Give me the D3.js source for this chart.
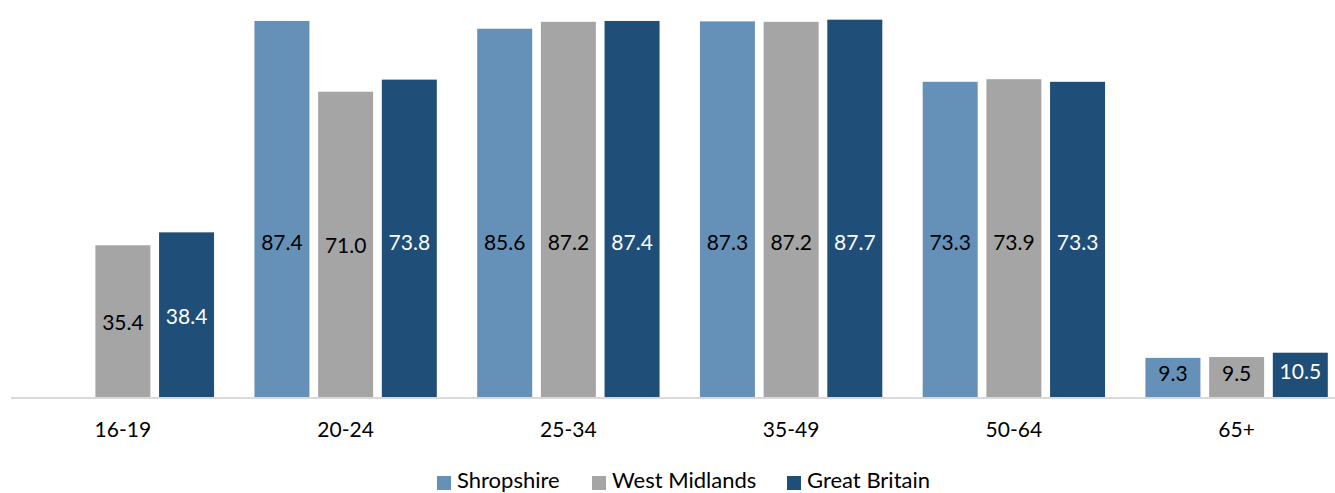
<!DOCTYPE html>
<html>
<head>
<meta charset="utf-8">
<script src="https://cdn.jsdelivr.net/npm/d3@7"></script>
<style>
  html, body { margin: 0; padding: 0; background: #fff; }
  svg { display: block; font-family: Lato, "Open Sans", sans-serif; }
</style>
</head>
<body>
<svg id="chart" width="1335" height="493"></svg>
<script>
// Employment rate by age group (%)
const categories = ["16-19", "20-24", "25-34", "35-49", "50-64", "65+"];
const seriesNames = ["Shropshire", "West Midlands", "Great Britain"];
const shropshire   = [null, 87.4, 85.6, 87.3, 73.3, 9.3];
const westMidlands = [35.4, 71.0, 87.2, 87.2, 73.9, 9.5];
const greatBritain = [38.4, 73.8, 87.4, 87.7, 73.3, 10.5];

const colors = ["#6591b9", "#a5a5a5", "#1f4e79"];
const labelColors = ["#000", "#000", "#fff"];
const seriesValues = [shropshire, westMidlands, greatBritain];

const svg = d3.select("#chart");
const baseY = 398;
const labelCap = 72.7; // labels of taller bars sit centred below this level

const x0 = d3.scaleBand().domain(categories).range([11.5, 1348]).padding(0);
const x1 = d3.scaleBand().domain(seriesNames).range([0, x0.bandwidth()])
  .paddingInner(0.1366).paddingOuter(0.317);
const y = d3.scaleLinear().domain([0, 92.26]).range([baseY, 0]);

// bars
const rows = [];
categories.forEach((c, i) => {
  seriesNames.forEach((s, j) => {
    const v = seriesValues[j][i];
    if (v != null) rows.push({ c, s, j, v });
  });
});

const g = svg.append("g");
g.selectAll("rect.bar").data(rows).join("rect")
  .attr("class", "bar")
  .attr("x", d => x0(d.c) + x1(d.s))
  .attr("y", d => y(d.v))
  .attr("width", x1.bandwidth())
  .attr("height", d => baseY - y(d.v))
  .attr("fill", d => colors[d.j]);

// value labels: centred in the bar, lifted slightly for very short bars
g.selectAll("text.val").data(rows).join("text")
  .attr("class", "val")
  .attr("x", d => x0(d.c) + x1(d.s) + x1.bandwidth() / 2)
  .attr("y", d => y(Math.min(d.v, labelCap) / 2) - (d.v < 20 ? 5 : 0))
  .attr("text-anchor", "middle")
  .attr("dominant-baseline", "central")
  .attr("font-size", 21)
  .attr("fill", d => labelColors[d.j])
  .text(d => d.v.toFixed(1));

// category axis
const xAxis = d3.axisBottom(x0).tickSize(0).tickPadding(0);
const ax = svg.append("g").attr("transform", `translate(0,${baseY})`).call(xAxis);
ax.select(".domain").remove();
ax.append("line").attr("x1", 11).attr("x2", 1335).attr("y1", 0).attr("y2", 0)
  .attr("stroke", "#d9d9d9").attr("stroke-width", 2);
ax.selectAll(".tick text")
  .attr("font-size", 21)
  .attr("font-family", "Lato, 'Open Sans', sans-serif")
  .attr("fill", "#000")
  .attr("dy", null)
  .attr("y", 39);

// legend
const legendX = [437, 592, 787];
const legend = svg.append("g");
seriesNames.forEach((s, j) => {
  legend.append("rect").attr("x", legendX[j]).attr("y", 476)
    .attr("width", 14).attr("height", 14).attr("fill", colors[j]);
  legend.append("text").attr("x", legendX[j] + 20).attr("y", 488)
    .attr("font-size", 22).attr("fill", "#000").text(s);
});
</script>
</body>
</html>
